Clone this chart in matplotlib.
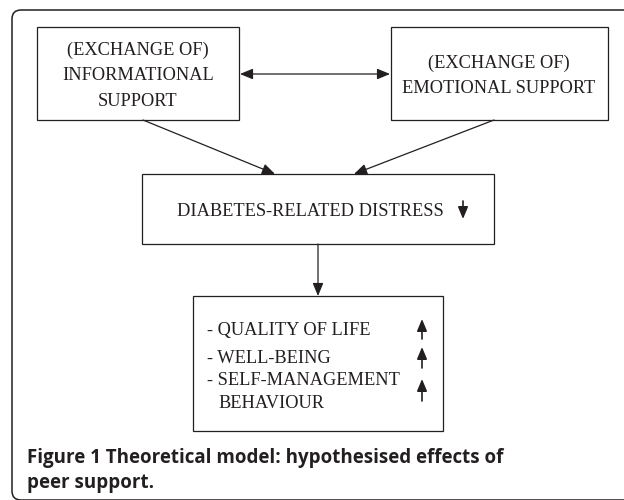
import matplotlib.pyplot as plt
from matplotlib.patches import Rectangle, FancyBboxPatch

# Diagram content
info_lines = ["(EXCHANGE OF)", "INFORMATIONAL", "SUPPORT"]
emo_lines = ["(EXCHANGE OF)", "EMOTIONAL SUPPORT"]
distress_text = "DIABETES-RELATED DISTRESS"
outcomes = ["- QUALITY OF LIFE", "- WELL-BEING", "- SELF-MANAGEMENT"]
outcome_cont = "BEHAVIOUR"
caption_line1 = "Figure 1 Theoretical model: hypothesised effects of"
caption_line2 = "peer support."

ink = "#231f20"
serif = "Liberation Serif"
fs = 13.2

fig = plt.figure(figsize=(6.24, 5.0), dpi=100)
ax = fig.add_axes([0, 0, 1, 1])
ax.set_xlim(0, 624)
ax.set_ylim(500, 0)
ax.axis("off")

# outer frame (runs off the right and bottom edge)
frame = FancyBboxPatch((12, 10), 640, 490, boxstyle="round,pad=0,rounding_size=9",
                       fill=False, ec=ink, lw=1.1)
ax.add_patch(frame)


def box(x0, y0, x1, y1):
    ax.add_patch(Rectangle((x0, y0), x1 - x0, y1 - y0, fill=False, ec=ink, lw=0.9))


def arrow(x0, y0, x1, y1, both=False, ms=13, lw=0.9):
    style = "<|-|>" if both else "-|>"
    ax.annotate("", xy=(x1, y1), xytext=(x0, y0),
                arrowprops=dict(arrowstyle=style + ",head_length=0.6,head_width=0.25",
                                color=ink, lw=lw, mutation_scale=ms,
                                shrinkA=0, shrinkB=0))


def label(x, y, txt, ha="center"):
    ax.text(x, y, txt, ha=ha, va="baseline", family=serif, fontsize=fs, color=ink)


# top boxes
box(37, 27, 239, 120)
for txt, y in zip(info_lines, [55, 80, 106]):
    label(138, y, txt)
box(391, 27, 608, 120)
for txt, y in zip(emo_lines, [68, 93]):
    label(499, y, txt)
arrow(240, 74, 390, 74, both=True)

# arrows to middle box
arrow(143, 120, 275, 174)
arrow(494, 120, 354, 174)

# middle box
box(142, 174, 494, 244)
label(310, 216, distress_text)
arrow(463, 201, 463, 219, ms=12, lw=1.2)

# down to outcome box
arrow(318, 244, 318, 296)
box(193, 296, 443, 431)
for txt, y in zip(outcomes, [335, 363, 385]):
    label(207, y, txt, ha="left")
label(218, 408, outcome_cont, ha="left")
for y0, y1 in [(339, 319), (368, 347), (401, 379)]:
    arrow(422, y0, 422, y1, ms=12, lw=1.2)

# caption
ax.text(27, 463, caption_line1, ha="left", va="baseline", family="Open Sans",
        fontweight="bold", fontsize=13.5, color=ink)
ax.text(27, 488, caption_line2, ha="left", va="baseline", family="Open Sans",
        fontweight="bold", fontsize=13.5, color=ink)

fig.savefig("out.png", dpi=100)
